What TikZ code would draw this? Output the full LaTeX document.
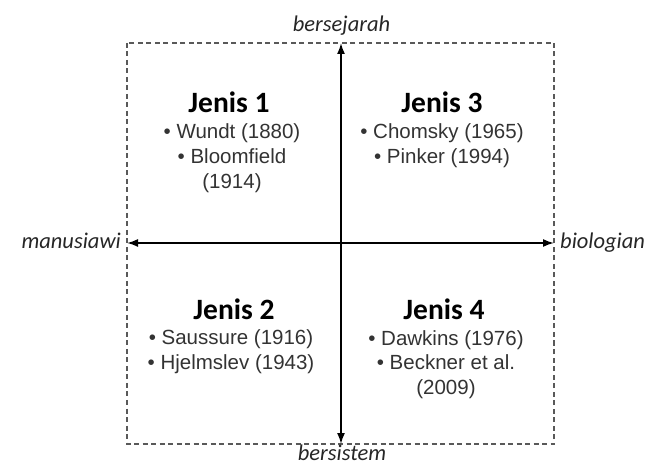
\documentclass[tikz,border=0pt]{standalone}
\usepackage{fontspec}
\setmainfont{Liberation Sans}
\newfontfamily\calib{Carlito}
\usetikzlibrary{arrows.meta}
\tikzset{
  frame/.style={draw=black!65, line width=1.3pt, dash pattern=on 5pt off 3.5pt},
  axis/.style={draw=black, line width=1.7pt, {Latex[length=11pt,width=8pt]}-{Latex[length=11pt,width=8pt]}},
  axlabel/.style={inner sep=0pt, font=\calib\itshape\fontsize{22.5}{26}\selectfont, text=black!85},
  head/.style={inner sep=0pt, anchor=base, font=\calib\bfseries\fontsize{29.5}{34}\selectfont},
  items/.style={inner sep=0pt, anchor=base, align=center, text=black!80, font=\fontsize{20.5}{25}\selectfont}
}
\begin{document}
\begin{tikzpicture}[x=1pt,y=-1pt]
\useasboundingbox (0,0) rectangle (654,465);
\coordinate (tl) at (127,43);
\coordinate (br) at (554,444);
\draw[frame] (tl) rectangle (br);
\coordinate (top) at (341,43);
\coordinate (bot) at (341,444);
\coordinate (lft) at (127,243);
\coordinate (rgt) at (554,243);
\draw[axis] (bot) -- (top);
\draw[axis] (lft) -- (rgt);
\node[axlabel, anchor=base] (up) at (341.5,32) {bersejarah};
\node[axlabel, anchor=base] (down) at (342,460) {bersistem};
\node[axlabel, anchor=base east] (left) at (121,249) {manusiawi};
\node[axlabel, anchor=base west] (right) at (560,249) {biologian};
% multi-line nodes: base anchor is the baseline of the last line
\node[head] (h1) at (229,113) {Jenis 1};
\node[items] (b1) at (232,189) {• Wundt (1880)\\• Bloomfield\\(1914)};
\node[head] (h3) at (442,113) {Jenis 3};
\node[items] (b3) at (442,164) {• Chomsky (1965)\\• Pinker (1994)};
\node[head] (h2) at (234,320) {Jenis 2};
\node[items] (b2) at (231,370) {• Saussure (1916)\\• Hjelmslev (1943)};
\node[head] (h4) at (444,320) {Jenis 4};
\node[items] (b4) at (446,395) {• Dawkins (1976)\\• Beckner et al.\\(2009)};
\end{tikzpicture}
\end{document}
